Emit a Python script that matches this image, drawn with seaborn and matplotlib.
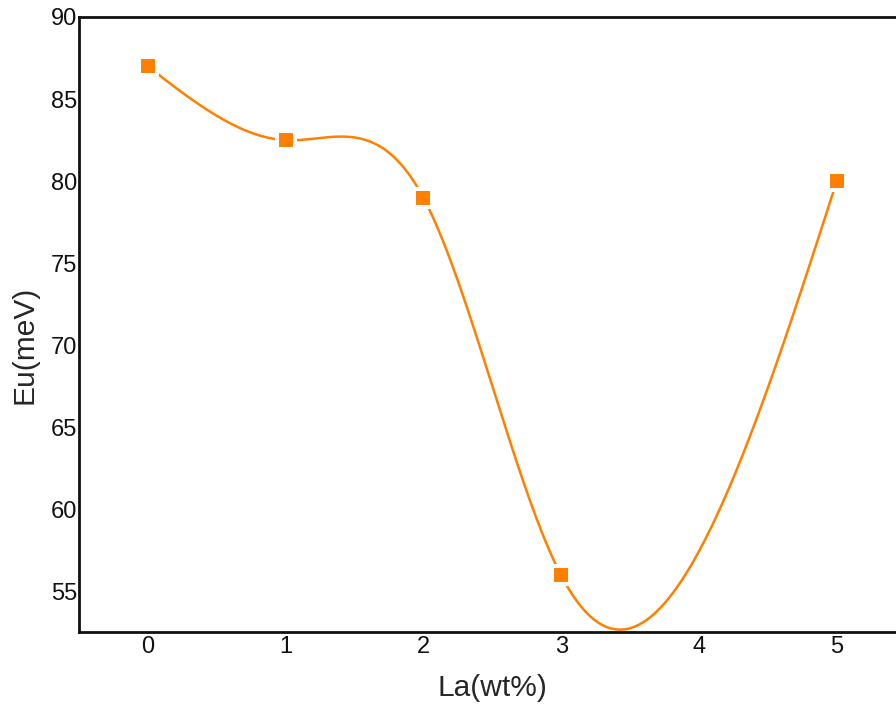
import numpy as np
import pandas as pd
import matplotlib
matplotlib.use("Agg")
import matplotlib.pyplot as plt
import seaborn as sns

# La content (wt%) and Urbach energy Eu (meV)
la_wt = [0, 1, 2, 3, 5]
eu_mev = [87.0, 82.5, 79.0, 56.0, 80.0]
x_ticks = [0, 1, 2, 3, 4, 5]
y_ticks = [55, 60, 65, 70, 75, 80, 85, 90]


def natural_cubic_spline(x, y, xs):
    x = np.asarray(x, float)
    y = np.asarray(y, float)
    n = len(x)
    h = np.diff(x)
    A = np.zeros((n, n))
    b = np.zeros(n)
    A[0, 0] = A[-1, -1] = 1.0
    for i in range(1, n - 1):
        A[i, i - 1] = h[i - 1]
        A[i, i] = 2 * (h[i - 1] + h[i])
        A[i, i + 1] = h[i]
        b[i] = 6 * ((y[i + 1] - y[i]) / h[i] - (y[i] - y[i - 1]) / h[i - 1])
    m = np.linalg.solve(A, b)
    idx = np.clip(np.searchsorted(x, xs) - 1, 0, n - 2)
    x0, x1 = x[idx], x[idx + 1]
    hh = x1 - x0
    t0, t1 = x1 - xs, xs - x0
    return (m[idx] * t0 ** 3 / (6 * hh) + m[idx + 1] * t1 ** 3 / (6 * hh)
            + (y[idx] / hh - m[idx] * hh / 6) * t0
            + (y[idx + 1] / hh - m[idx + 1] * hh / 6) * t1)


points = pd.DataFrame({"La": la_wt, "Eu": eu_mev})
xs = np.linspace(min(la_wt), max(la_wt), 600)
curve = pd.DataFrame({"La": xs, "Eu": natural_cubic_spline(la_wt, eu_mev, xs)})

sns.set_theme(style="white")
plt.rcParams["font.family"] = ["Liberation Sans", "DejaVu Sans"]

orange = "#FF8000"
fig = plt.figure(figsize=(8.96, 7.07), dpi=100)
ax = fig.add_axes([0.088, 0.106, 0.912, 0.870])

sns.lineplot(data=curve, x="La", y="Eu", color=orange, linewidth=1.8, ax=ax)
sns.scatterplot(data=points, x="La", y="Eu", marker="s", s=151, color=orange,
                edgecolor="white", linewidth=2.9, zorder=3, ax=ax)

ax.set_xlim(-0.5, 5.43)
ax.set_ylim(52.55, 90)
ax.set_xticks(x_ticks)
ax.set_yticks(y_ticks)
ax.tick_params(axis="both", length=0, labelsize=17, colors="#111111")
ax.tick_params(axis="x", pad=3)
ax.tick_params(axis="y", pad=1)

ax.set_xlabel("La(wt%)", fontsize=21.5)
ax.set_ylabel("Eu(meV)", fontsize=21.5)
ax.xaxis.set_label_coords(0.506, -0.068)
ax.yaxis.set_label_coords(-0.049, 0.467)

for side in ["left", "top", "bottom"]:
    ax.spines[side].set_visible(True)
    ax.spines[side].set_color("#111111")
    ax.spines[side].set_linewidth(2.0)
ax.spines["right"].set_visible(False)

fig.savefig("out.png", dpi=100, facecolor="white")
